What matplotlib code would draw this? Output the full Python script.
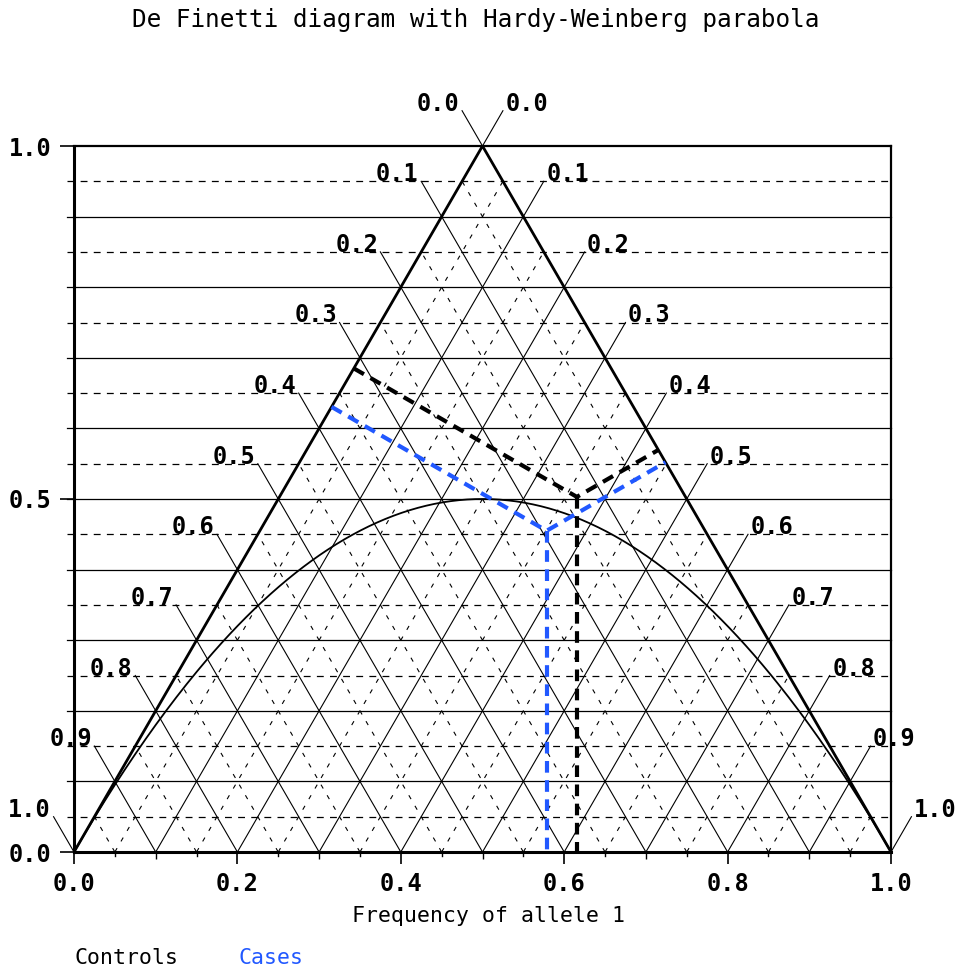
import numpy as np
import matplotlib
matplotlib.use("Agg")
import matplotlib.pyplot as plt

# genotype frequencies (AA, AB, BB)
groups = ["Controls", "Cases"]
freq_AA = [0.364, 0.351]
freq_AB = [0.503, 0.455]
freq_BB = [0.133, 0.194]
group_colors = ["black", "#2158ff"]

side_ticks = [round(k * 0.1, 1) for k in range(11)]
x_ticks = [0.0, 0.2, 0.4, 0.6, 0.8, 1.0]
y_ticks = [0.0, 0.5, 1.0]

MONO = "DejaVu Sans Mono"
H = np.sqrt(3) / 2  # y scale to make the triangle equilateral on screen

fig = plt.figure(figsize=(9.59, 9.68), dpi=100)
ax = fig.add_axes([74 / 959, 116 / 968, 817 / 959, 706 / 968])
ax.set_xlim(0, 1)
ax.set_ylim(0, 1)

# horizontal lines (heterozygote frequency), full width
for k in range(1, 20):
    h = k * 0.05
    if k % 2 == 0:
        ax.plot([-0.009, 1], [h, h], color="black", lw=0.9, clip_on=False)
    else:
        ax.plot([-0.009, 1], [h, h], color="black", lw=0.9,
                dashes=(5.5, 5), clip_on=False)

# dashed lines parallel to the two slanted sides, inside the triangle
for k in range(1, 20, 2):
    v = k * 0.05
    # constant AA: from (v,0) to right side
    ax.plot([v, (1 + v) / 2], [0, 1 - v], color="black", lw=0.8, dashes=(4, 7))
    # constant BB: from (1-v,0) to left side
    ax.plot([1 - v, (1 - v) / 2], [0, 1 - v], color="black", lw=0.8, dashes=(4, 7))

# solid lines + leader lines to side labels
lead = 0.05
for v in side_ticks:
    # right side labels (constant AA)
    xe, ye = (1 + v) / 2 + lead / 2, 1 - v + lead
    ax.plot([v, xe], [0, ye], color="black", lw=0.8, clip_on=False)
    ax.text(xe + 0.003, ye, f"{v:.1f}", ha="left", va="baseline",
            family=MONO, fontsize=17, fontweight="bold")
    # left side labels (constant BB)
    xe, ye = (1 - v) / 2 - lead / 2, 1 - v + lead
    ax.plot([1 - v, xe], [0, ye], color="black", lw=0.8, clip_on=False)
    ax.text(xe - 0.003, ye, f"{v:.1f}", ha="right", va="baseline",
            family=MONO, fontsize=17, fontweight="bold")

# triangle
ax.plot([0, 0.5, 1], [0, 1, 0], color="black", lw=2.0)

# Hardy-Weinberg parabola
p = np.linspace(0, 1, 400)
ax.plot(p, 2 * p * (1 - p), color="black", lw=1.3)

# perpendiculars from each point to the three sides
for aa, ab, bb, col in zip(freq_AA, freq_AB, freq_BB, group_colors):
    x = aa + ab / 2
    y = ab
    P = np.array([x, y * H])
    # left side: from (0,0) direction (0.5, H)
    u = np.array([0.5, H])
    fl = u * (P @ u)
    # right side: from (1,0) direction (-0.5, H)
    u = np.array([-0.5, H])
    fr = np.array([1, 0]) + u * ((P - np.array([1, 0])) @ u)
    ax.plot([fl[0], x, fr[0]], [fl[1] / H, y, fr[1] / H], color=col,
            lw=3.0, dashes=(2.8, 1.8))
    ax.plot([x, x], [y, 0], color=col, lw=3.0, dashes=(2.8, 1.8))

# frame
for side in ["left", "bottom"]:
    ax.spines[side].set_linewidth(2.2)
for side in ["right", "top"]:
    ax.spines[side].set_linewidth(1.6)

ax.set_xticks(x_ticks)
ax.set_xticklabels([f"{t:.1f}" for t in x_ticks], family=MONO, fontsize=17,
                   fontweight="bold")
ax.set_xticks([0.1, 0.3, 0.5, 0.7, 0.9], minor=True)
ax.tick_params(axis="x", which="major", length=8.6, width=1.2, pad=6)
ax.tick_params(axis="x", which="minor", length=5, width=1.0)
for t in np.arange(0.05, 1.0, 0.1):
    ax.plot([t, t], [0, -0.0055], color="black", lw=1.0, clip_on=False)

ax.set_yticks(y_ticks)
ax.set_yticklabels([f"{t:.1f}" for t in y_ticks], family=MONO, fontsize=17,
                   fontweight="bold")
ax.tick_params(axis="y", which="major", length=10, width=1.2, pad=6)

ax.set_xlabel("Frequency of allele 1", family=MONO, fontsize=15.5)
ax.xaxis.set_label_coords(0.507, -0.076)

fig.text(476 / 959, 1 - 20 / 968, "De Finetti diagram with Hardy-Weinberg parabola",
         ha="center", va="center", family=MONO, fontsize=17.5)

fig.text(75 / 959, 10 / 968, groups[0], ha="left", va="center",
         family=MONO, fontsize=15.5, color=group_colors[0])
fig.text(238 / 959, 10 / 968, groups[1], ha="left", va="center",
         family=MONO, fontsize=15.5, color=group_colors[1])

fig.savefig("out.png", dpi=100)
